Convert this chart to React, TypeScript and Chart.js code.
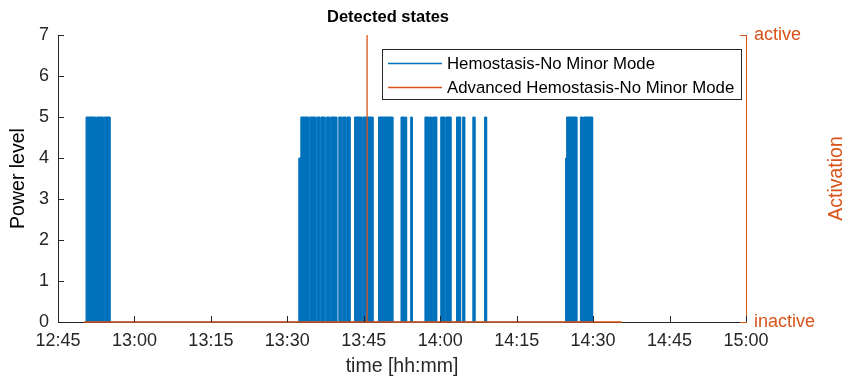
import React, { useEffect, useRef } from "react";
import { Chart, registerables } from "chart.js";

Chart.register(...registerables);

// time axis in minutes since midnight
const xTickValues = [765, 780, 795, 810, 825, 840, 855, 870, 885, 900];
const xTickLabels = ["12:45", "13:00", "13:15", "13:30", "13:45", "14:00", "14:15", "14:30", "14:45", "15:00"];
const yTickValues = [0, 1, 2, 3, 4, 5, 6, 7];
const stateLabels = ["inactive", "active"];

// Hemostasis-No Minor Mode: on-intervals (start, end, power level)
const hemoStart = [
  770.5, 772.55, 774.1,
  812.25, 812.65, 814.4, 815.8, 816.6, 817.7, 818.5, 820.1, 820.9, 821.7, 823.2, 824.8, 827.9,
  832.3, 833.2, 834.2, 837.0, 837.9, 838.5, 840.1, 841.1, 843.2, 844.4, 846.4, 848.7,
  864.6, 864.8, 867.5, 868.1,
];
const hemoEnd = [
  772.35, 773.9, 775.2,
  812.65, 814.2, 815.6, 816.4, 817.4, 818.3, 819.7, 820.7, 821.5, 822.3, 824.6, 826.8, 830.7,
  833.0, 833.4, 834.5, 837.7, 838.3, 839.3, 840.9, 842.1, 844.0, 844.8, 846.8, 849.1,
  864.8, 866.8, 867.9, 869.9,
];
const hemoLevel = [
  5, 5, 5,
  4, 5, 5, 5, 5, 5, 5, 5, 5, 5, 5, 5, 5,
  5, 5, 5, 5, 5, 5, 5, 5, 5, 5, 5, 5,
  4, 5, 5, 5,
];

// Advanced Hemostasis-No Minor Mode: activation (0 inactive, 1 active)
const advTime = [770.1, 825.65, 825.65, 825.65, 875.6];
const advState = [0, 0, 1, 0, 0];

const BLUE = "#0072BD";
const ORANGE = "#D95319";
const AXIS = "#262626";
const FONT = "'Liberation Sans', Arial, Helvetica, sans-serif";
const TICK_SIZE = 18;
const LABEL_SIZE = 19.5;

function buildHemo() {
  const pts: { x: number; y: number }[] = [];
  for (let i = 0; i < hemoStart.length; i++) {
    pts.push({ x: hemoStart[i], y: 0 });
    pts.push({ x: hemoStart[i], y: hemoLevel[i] });
    pts.push({ x: hemoEnd[i], y: hemoLevel[i] });
    pts.push({ x: hemoEnd[i], y: 0 });
  }
  return pts;
}

const decorPlugin = {
  id: "decor",
  afterDraw(chart: any) {
    const { ctx, chartArea, scales } = chart;
    const x = scales.x, y = scales.y, y1 = scales.y1;
    const tl = 6;
    ctx.save();
    ctx.lineWidth = 1;
    // inward ticks
    ctx.strokeStyle = AXIS;
    ctx.beginPath();
    xTickValues.forEach((v) => {
      const px = Math.round(x.getPixelForValue(v)) + 0.5;
      ctx.moveTo(px, chartArea.bottom);
      ctx.lineTo(px, chartArea.bottom - tl);
    });
    yTickValues.forEach((v) => {
      const py = Math.round(y.getPixelForValue(v)) + 0.5;
      ctx.moveTo(chartArea.left, py);
      ctx.lineTo(chartArea.left + tl, py);
    });
    ctx.stroke();
    ctx.strokeStyle = ORANGE;
    ctx.beginPath();
    [0, 1].forEach((v) => {
      const py = Math.round(y1.getPixelForValue(v)) + 0.5;
      ctx.moveTo(chartArea.right, py);
      ctx.lineTo(chartArea.right - tl, py);
    });
    ctx.stroke();

    // title
    ctx.fillStyle = "#000";
    ctx.font = `bold 16.5px ${FONT}`;
    ctx.textAlign = "center";
    ctx.textBaseline = "middle";
    ctx.fillText("Detected states", 388, 17);

    // right axis title
    ctx.fillStyle = ORANGE;
    ctx.font = `${LABEL_SIZE}px ${FONT}`;
    ctx.translate(837, (chartArea.top + chartArea.bottom) / 2);
    ctx.rotate(-Math.PI / 2);
    ctx.fillText("Activation", 0, 0);
    ctx.restore();

    // legend
    ctx.save();
    const bx = 382.5, by = 49.5, bw = 359, bh = 50;
    ctx.fillStyle = "#ffffff";
    ctx.fillRect(bx, by, bw, bh);
    ctx.strokeStyle = AXIS;
    ctx.lineWidth = 1;
    ctx.strokeRect(bx, by, bw, bh);
    const rows = [by + 14, by + 38];
    const colors = [BLUE, ORANGE];
    chart.data.datasets.forEach((ds: any, i: number) => {
      ctx.strokeStyle = colors[i];
      ctx.lineWidth = 1.5;
      ctx.beginPath();
      ctx.moveTo(388, rows[i]);
      ctx.lineTo(442, rows[i]);
      ctx.stroke();
      ctx.fillStyle = "#000";
      ctx.font = `16.8px ${FONT}`;
      ctx.textAlign = "left";
      ctx.textBaseline = "middle";
      ctx.fillText(ds.label, 447, rows[i] + 1);
    });
    ctx.restore();
  },
};

export default function App() {
  const ref = useRef<HTMLCanvasElement | null>(null);
  useEffect(() => {
    document.body.style.margin = "0";
    const canvas = ref.current!;
    const chart = new Chart(canvas, {
      type: "line",
      data: {
        datasets: [
          {
            label: "Hemostasis-No Minor Mode",
            data: buildHemo(),
            borderColor: BLUE,
            backgroundColor: BLUE,
            borderWidth: 1,
            fill: "origin",
            pointRadius: 0,
            tension: 0,
            yAxisID: "y",
            order: 2,
            clip: 4,
          },
          {
            label: "Advanced Hemostasis-No Minor Mode",
            data: advTime.map((t, i) => ({ x: t, y: advState[i] })),
            borderColor: ORANGE,
            backgroundColor: ORANGE,
            borderWidth: 1.3,
            fill: false,
            pointRadius: 0,
            tension: 0,
            yAxisID: "y1",
            order: 1,
            clip: 4,
          },
        ],
      },
      options: {
        animation: false,
        responsive: false,
        devicePixelRatio: 1,
        layout: { padding: { top: 35, left: 0, right: 0, bottom: 0 } },
        plugins: {
          legend: { display: false },
          tooltip: { enabled: false },
          title: { display: false },
        },
        scales: {
          x: {
            type: "linear",
            min: 765,
            max: 900,
            grid: { display: false, drawTicks: false },
            border: { display: true, color: AXIS, width: 1 },
            afterBuildTicks: (s: any) => {
              s.ticks = xTickValues.map((v) => ({ value: v }));
            },
            ticks: {
              autoSkip: false,
              maxRotation: 0,
              padding: 8,
              color: AXIS,
              font: { family: FONT, size: TICK_SIZE },
              callback: (v: any) => {
                const i = xTickValues.indexOf(Number(v));
                return i >= 0 ? xTickLabels[i] : "";
              },
            },
            title: {
              display: true,
              text: "time [hh:mm]",
              color: AXIS,
              font: { family: FONT, size: LABEL_SIZE },
              padding: { top: 0, bottom: 0 },
            },
            afterFit: (s: any) => {
              s.height = 56;
            },
          },
          y: {
            position: "left",
            min: 0,
            max: 7,
            grid: { display: false, drawTicks: false },
            border: { display: true, color: AXIS, width: 1 },
            ticks: {
              stepSize: 1,
              padding: 9,
              color: AXIS,
              font: { family: FONT, size: TICK_SIZE },
            },
            title: {
              display: true,
              text: "Power level",
              color: "#000",
              font: { family: FONT, size: LABEL_SIZE },
              padding: { top: 6.5, bottom: 0 },
            },
            afterFit: (s: any) => {
              s.width = 58;
            },
          },
          y1: {
            position: "right",
            min: 0,
            max: 1,
            grid: { display: false, drawTicks: false },
            border: { display: true, color: ORANGE, width: 1 },
            ticks: {
              stepSize: 1,
              padding: 8,
              color: ORANGE,
              font: { family: FONT, size: TICK_SIZE },
              callback: (v: any) => stateLabels[Number(v)] ?? "",
            },
            afterFit: (s: any) => {
              s.width = 103;
            },
          },
        },
      },
      plugins: [decorPlugin],
    });
    return () => chart.destroy();
  }, []);
  return (
    <div style={{ width: 849, height: 378, background: "#fff" }}>
      <canvas ref={ref} width={849} height={378} style={{ display: "block" }} />
    </div>
  );
}
